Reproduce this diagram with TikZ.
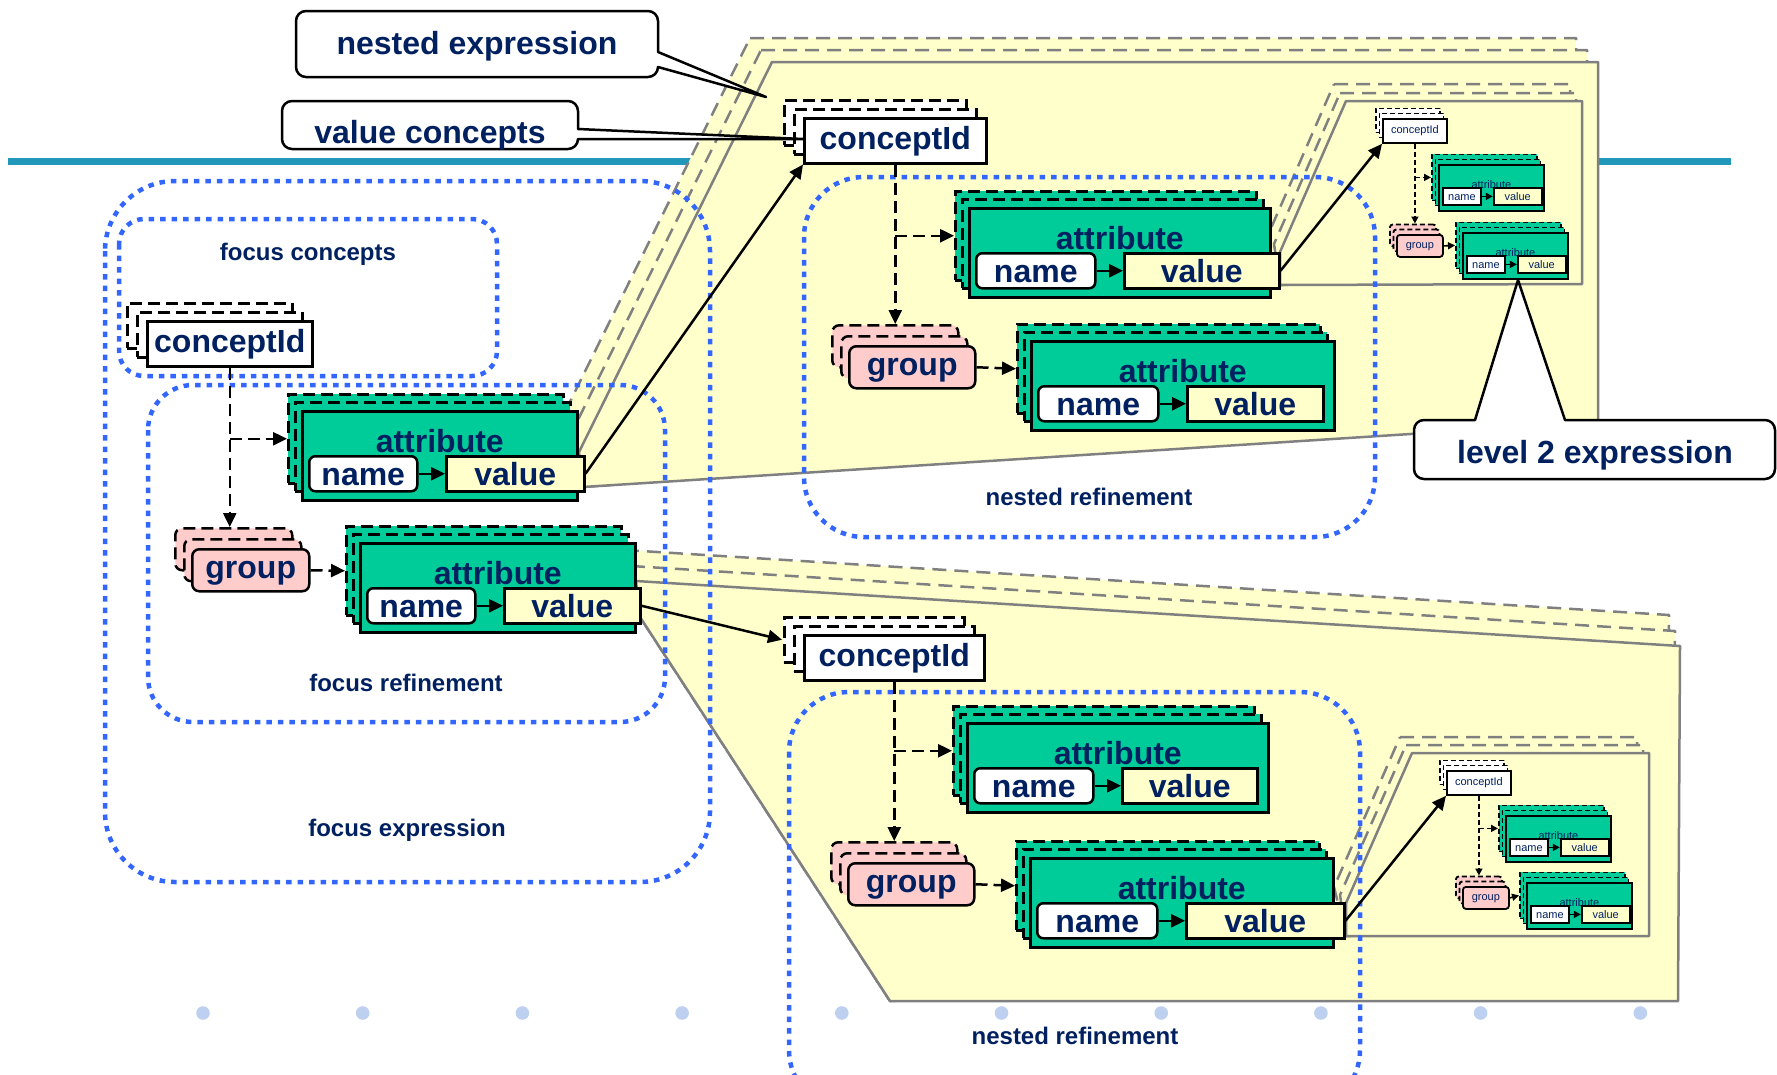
\documentclass[tikz,border=0pt]{standalone}
\usepackage{fontspec}
\setmainfont{Liberation Sans}
\usetikzlibrary{arrows.meta,shadows}

\definecolor{navy}{RGB}{0,32,96}
\definecolor{attrgreen}{RGB}{0,204,153}
\definecolor{grppink}{RGB}{255,204,204}
\definecolor{paleyellow}{RGB}{255,255,204}
\definecolor{dotblue}{RGB}{51,102,255}
\definecolor{rulecol}{RGB}{33,152,185}
\definecolor{bulletcol}{RGB}{190,208,240}
\definecolor{edgegray}{RGB}{128,128,128}

\newcommand{\fbig}{\bfseries\fontsize{32}{38}\selectfont}
\newcommand{\fmid}{\bfseries\fontsize{24}{28}\selectfont}
\newcommand{\fsmall}{\fontsize{11}{13}\selectfont}

\tikzset{
	dashbox/.style={dash pattern=on 12pt off 6pt},
	bigstack/.style={
		copy shadow={shadow xshift=-14pt, shadow yshift=17pt, dashbox},
		copy shadow={shadow xshift=-7pt, shadow yshift=9pt, dashbox}},
	cidstack/.style={
		copy shadow={shadow xshift=-20pt, shadow yshift=18pt, dashbox},
		copy shadow={shadow xshift=-10pt, shadow yshift=9pt, dashbox}},
	grpstack/.style={
		copy shadow={shadow xshift=-17pt, shadow yshift=21pt, dashbox},
		copy shadow={shadow xshift=-8pt, shadow yshift=10pt, dashbox}},
	tinystack/.style={
		copy shadow={shadow xshift=-7pt, shadow yshift=10.5pt, dash pattern=on 5pt off 3pt},
		copy shadow={shadow xshift=-3.5pt, shadow yshift=5.5pt, dash pattern=on 5pt off 3pt}},
	nbox/.style={draw, line width=2.5pt, inner sep=0pt, anchor=north west, text=navy, font=\fbig, text height=23pt, text depth=6pt},
	cid/.style={nbox, fill=white, minimum height=45pt, cidstack},
	grp/.style={nbox, fill=grppink, minimum width=126pt, minimum height=42pt, rounded corners=7pt, grpstack},
	attr/.style={nbox, fill=attrgreen, minimum height=89pt, bigstack},
	namebox/.style={nbox, fill=white, minimum height=35pt, rounded corners=6pt, text depth=0pt},
	valbox/.style={nbox, fill=paleyellow, minimum height=35pt, text depth=0pt},
	tbox/.style={draw, line width=1.8pt, inner sep=0pt, anchor=north west, text=navy, font=\fsmall, text height=8pt, text depth=2pt},
	tcid/.style={tbox, fill=white, minimum width=64pt, minimum height=24pt, tinystack},
	tgrp/.style={tbox, fill=grppink, minimum width=46pt, minimum height=22pt, rounded corners=3pt, tinystack},
	tattr/.style={tbox, fill=attrgreen, minimum width=105pt, minimum height=46pt, tinystack},
	tname/.style={tbox, fill=white, minimum width=38pt, minimum height=17pt, text depth=0pt},
	tval/.style={tbox, fill=paleyellow, minimum width=48pt, minimum height=17pt, text depth=0pt},
	attrlbl/.style={inner sep=0pt, anchor=base, text=navy},
	lbl/.style={text=navy, font=\fbig, inner sep=0pt},
	regionlbl/.style={text=navy, font=\fmid, inner sep=0pt},
	flow/.style={line width=2.5pt, dash pattern=on 12pt off 6pt, -{Triangle[length=14pt,width=13pt]}},
	link/.style={line width=2.5pt, -{Triangle[length=14pt,width=13pt]}},
	tflow/.style={line width=1.6pt, dash pattern=on 5pt off 3pt, -{Triangle[length=7pt,width=7pt]}},
	nest/.style={fill=paleyellow, draw=edgegray, line width=2.5pt, line join=round},
	nestcopy/.style={nest, dash pattern=on 14pt off 8pt},
	region/.style={draw=dotblue, line width=4.5pt, dash pattern=on 5.5pt off 6pt, rounded corners=#1},
	callout/.style={draw, fill=white, line width=2.5pt, line join=round},
}

% attribute with name and value: id, x, y, width, name width, value width
\newcommand{\attrblock}[6]{
	\node[attr, minimum width=#4pt] (#1) at (#2,#3) {};
	\node[attrlbl, font=\fbig] at ([yshift=-42pt]#1.north) {attribute};
	\node[namebox, minimum width=#5pt] (#1n) at ([xshift=7pt,yshift=-45pt]#1.north west) {name};
	\node[valbox, minimum width=#6pt] (#1v) at ([xshift=26.5pt]#1n.north east) {value};
	\draw[link] (#1n) -- (#1v);
}
% the same, small: id, x, y
\newcommand{\tinyattr}[3]{
	\node[tattr] (#1) at (#2,#3) {};
	\node[attrlbl, font=\fsmall] at ([yshift=-24pt]#1.north) {attribute};
	\node[tname] (#1n) at ([xshift=4pt,yshift=-23pt]#1.north west) {name};
	\node[tval] (#1v) at ([xshift=11pt]#1n.north east) {value};
	\draw[line width=1.6pt, -{Triangle[length=7pt,width=7pt]}] (#1n) -- (#1v);
}

\begin{document}
\begin{tikzpicture}[x=1pt, y=-1pt]
	\useasboundingbox (0,0) rectangle (1777,1074);

% SLIDE BACKGROUND
	\draw[rulecol, line width=7pt] (8,161) -- (1731,161);
	\foreach \k in {0,...,9}
		\fill[bulletcol] ({203+159.7*\k},1013) circle (6.8);

% NESTED EXPRESSIONS
	\draw[nestcopy] (750,38) -- (1576,38) -- (1576,398) -- (583,487) -- (557,428) -- cycle;
	\draw[nestcopy] (761,50) -- (1587,50) -- (1587,410) -- (583,487) -- (568,440) -- cycle;
	\draw[nest] (772,62) -- (1598,62) -- (1598,422) -- (583,487) -- (579,452) -- cycle;

	\draw[nestcopy] (625,550) -- (1669,615) -- (1667,970) -- (890,1001) -- (640,617) -- cycle;
	\draw[nestcopy] (631,566) -- (1675,631) -- (1673,986) -- (890,1001) -- (640,617) -- cycle;
	\draw[nest] (636,581) -- (1680,646) -- (1678,1001) -- (890,1001) -- (640,617) -- cycle;

	\draw[nestcopy] (1334,84) -- (1570,84) -- (1570,267) -- (1280,285) -- (1268,235) -- cycle;
	\draw[nestcopy] (1340,93) -- (1576,93) -- (1576,276) -- (1280,285) -- (1274,244) -- cycle;
	\draw[nest] (1346,101) -- (1582,101) -- (1582,284) -- (1280,285) -- (1280,252) -- cycle;

	\draw[nestcopy] (1400,737) -- (1637,737) -- (1637,920) -- (1346,936) -- (1334,887) -- cycle;
	\draw[nestcopy] (1406,745) -- (1643,745) -- (1643,928) -- (1346,936) -- (1340,895) -- cycle;
	\draw[nest] (1412,753) -- (1649,753) -- (1649,936) -- (1346,936) -- (1346,903) -- cycle;

% REGIONS
	\draw[region=70pt] (105,181) rectangle (710,882);
	\draw[region=25pt] (119,219) rectangle (497,376);
	\draw[region=45pt] (148,385) rectangle (665,722);
	\draw[region=60pt] (804,177) rectangle (1375,537);
	\draw[region=60pt] (789,692) rectangle (1360,1110);

	\node[regionlbl] (lblConc) at (308,254) {focus concepts};
	\node[regionlbl] (lblRef) at (406,683) {focus refinement};
	\node[regionlbl] (lblExpr) at (407,830) {focus expression};
	\node[regionlbl] (lblNestU) at (1089,497) {nested refinement};
	\node[regionlbl] (lblNestL) at (1075,1036) {nested refinement};

% FOCUS
	\node[cid, minimum width=165pt] (cF) at (146,320) {conceptId};
	\attrblock{aF1}{301}{410}{275}{108}{138}
	\node[grp, minimum width=117pt] (gF) at (191,548) {group};
	\attrblock{aF2}{359}{542}{275}{108}{136}

	\coordinate (gFtop) at ([yshift=21pt]gF.north);
	\coordinate (aF1in) at ([xshift=-14pt,yshift=17pt]aF1.west);
	\coordinate (aF2in) at ([xshift=-14pt,yshift=17pt]aF2.west);
	\draw[flow] (cF.south) -- (cF.south |- gFtop);
	\draw[flow] (cF.south |- aF1in) -- (aF1in);
	\draw[flow] (gF.east) -- (aF2in);

% NESTED, UPPER
	\node[cid, minimum width=182pt] (cU) at (803,117) {conceptId};
	\attrblock{aUA}{968}{207}{301}{119}{155}
	\node[grp] (gU) at (848,345) {group};
	\attrblock{aUB}{1030}{340}{303}{120}{136}

	\coordinate (gUtop) at ([yshift=21pt]gU.north);
	\coordinate (aUAin) at ([xshift=-14pt,yshift=17pt]aUA.west);
	\coordinate (aUBin) at ([xshift=-14pt,yshift=17pt]aUB.west);
	\draw[flow] (cU.south) -- (cU.south |- gUtop);
	\draw[flow] (cU.south |- aUAin) -- (aUAin);
	\draw[flow] (gU.east) -- (aUBin);

% NESTED, LOWER
	\node[cid, minimum width=180pt] (cL) at (803,634) {conceptId};
	\attrblock{aLA}{966}{722}{301}{119}{135}
	\node[grp] (gL) at (847,862) {group};
	\attrblock{aLB}{1029}{857}{303}{120}{158}

	\coordinate (gLtop) at ([yshift=21pt]gL.north);
	\coordinate (aLAin) at ([xshift=-14pt,yshift=17pt]aLA.west);
	\coordinate (aLBin) at ([xshift=-14pt,yshift=17pt]aLB.west);
	\draw[flow] (cL.south) -- (cL.south |- gLtop);
	\draw[flow] (cL.south |- aLAin) -- (aLAin);
	\draw[flow] (gL.east) -- (aLBin);

% LEVEL 2
	\node[tcid] (cU2) at (1382,118) {conceptId};
	\tinyattr{aU2a}{1438}{164}
	\node[tgrp] (gU2) at (1396,234) {group};
	\tinyattr{aU2b}{1462}{232}

	\coordinate (gU2top) at ([yshift=10.5pt]gU2.north);
	\coordinate (aU2ain) at ([xshift=-7pt,yshift=10.5pt]aU2a.west);
	\coordinate (aU2bin) at ([xshift=-7pt,yshift=10.5pt]aU2b.west);
	\draw[tflow] (cU2.south) -- (cU2.south |- gU2top);
	\draw[tflow] (cU2.south |- aU2ain) -- (aU2ain);
	\draw[tflow] (gU2.east) -- (aU2bin);

	\node[tcid] (cL2) at (1446,770) {conceptId};
	\tinyattr{aL2a}{1505}{815}
	\node[tgrp] (gL2) at (1462,886) {group};
	\tinyattr{aL2b}{1526}{882}

	\coordinate (gL2top) at ([yshift=10.5pt]gL2.north);
	\coordinate (aL2ain) at ([xshift=-7pt,yshift=10.5pt]aL2a.west);
	\coordinate (aL2bin) at ([xshift=-7pt,yshift=10.5pt]aL2b.west);
	\draw[tflow] (cL2.south) -- (cL2.south |- gL2top);
	\draw[tflow] (cL2.south |- aL2ain) -- (aL2ain);
	\draw[tflow] (gL2.east) -- (aL2bin);

% VALUES POINTING TO NESTED CONCEPTS
	\coordinate (cLin) at ([xshift=-21pt,yshift=18pt]cL.west);
	\draw[link] (aF1v.east) -- (cU.south west);
	\draw[link] (aF2v.east) -- (cLin);
	\draw[link] (aUAv.east) -- (cU2.south west);
	\draw[link] (aLBv.east) -- (cL2.south west);

% CALLOUTS
	\coordinate (neTip) at (766,97);
	\coordinate (vcTip) at (803,139);
	\coordinate (l2Tip) at (1518,280);
	\draw[callout] (neTip) -- (658,52) [rounded corners=10pt] -- (658,11) -- (296,11) -- (296,77) -- (658,77) [sharp corners] -- (658,67) -- cycle;
	\draw[callout] (vcTip) -- (578,129) [rounded corners=10pt] -- (578,101) -- (282,101) -- (282,149) -- (578,149) [sharp corners] -- (578,139) -- cycle;
	\draw[callout] (l2Tip) -- (1565,420) [rounded corners=10pt] -- (1775,420) -- (1775,479) -- (1414,479) -- (1414,420) [sharp corners] -- (1475,420) -- cycle;
	\node[lbl] (ne) at (477,46) {nested expression};
	\node[lbl] (vc) at (430,135) {value concepts};
	\node[lbl] (l2) at (1595,455) {level 2 expression};

\end{tikzpicture}
\end{document}
